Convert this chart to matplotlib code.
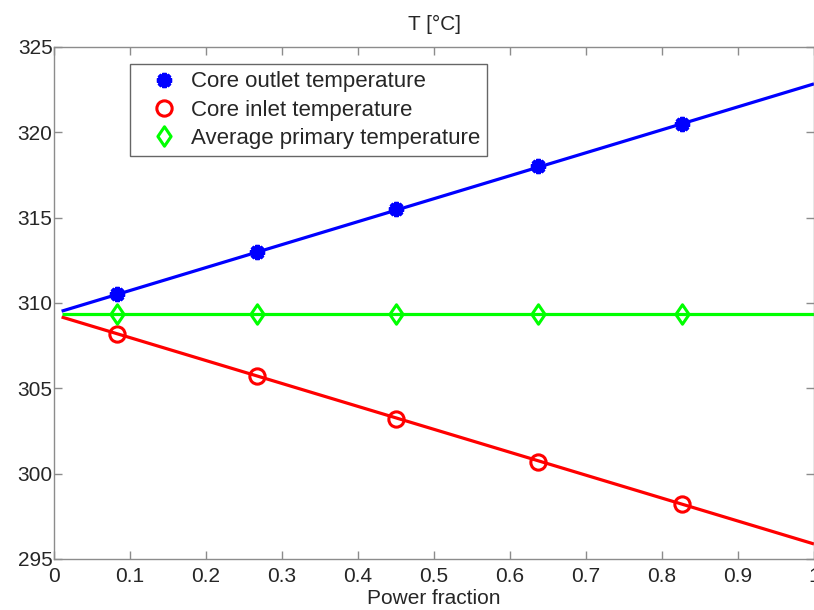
import matplotlib
matplotlib.use("Agg")
import matplotlib.pyplot as plt
from matplotlib.path import Path

plt.rcParams['font.family'] = ['Liberation Sans', 'DejaVu Sans']

# marker data
power_pts = [0.083, 0.267, 0.450, 0.637, 0.826]
outlet_pts = [310.5, 313.0, 315.5, 318.0, 320.5]
inlet_pts = [308.2, 305.7, 303.2, 300.7, 298.2]
avg_pts = [309.35, 309.35, 309.35, 309.35, 309.35]

# line data
power_line = [0.01, 1.0]
outlet_line = [309.52, 322.84]
inlet_line = [309.18, 295.88]
avg_line = [309.35, 309.35]

xticks = [0, 0.1, 0.2, 0.3, 0.4, 0.5, 0.6, 0.7, 0.8, 0.9, 1]
xticklabels = ['0', '0.1', '0.2', '0.3', '0.4', '0.5', '0.6', '0.7', '0.8', '0.9', '1']
yticks = [295, 300, 305, 310, 315, 320, 325]

diamond = Path([(0, 1), (0.68, 0), (0, -1), (-0.68, 0), (0, 1)],
               [Path.MOVETO, Path.LINETO, Path.LINETO, Path.LINETO, Path.CLOSEPOLY])

fig = plt.figure(figsize=(8.14, 6.10), dpi=100)
ax = fig.add_axes([54/814, 1-559/610, 1-54/814, (559-47)/610])

lw = 2.3
ax.plot(power_line, outlet_line, color='#0000ff', lw=lw, solid_capstyle='butt')
ax.plot(power_line, inlet_line, color='#ff0000', lw=lw, solid_capstyle='butt')
ax.plot(power_line, avg_line, color='#00ff00', lw=lw, solid_capstyle='butt')

ax.plot(power_pts, outlet_pts, ls='none', marker=(8, 2, 0), ms=11, mew=3.0,
        color='#0000ff', label='Core outlet temperature')
ax.plot(power_pts, inlet_pts, ls='none', marker='o', ms=11, mew=2.2,
        mfc='none', mec='#ff0000', label='Core inlet temperature')
ax.plot(power_pts, avg_pts, ls='none', marker=diamond, ms=14, mew=2.2,
        mfc='none', mec='#00ff00', label='Average primary temperature')

ax.set_xlim(0, 1)
ax.set_ylim(295, 325)
ax.set_xticks(xticks)
ax.set_xticklabels(xticklabels)
ax.set_yticks(yticks)

for s in ax.spines.values():
    s.set_color('#8c8c8c')
    s.set_linewidth(1.0)
ax.tick_params(direction='in', length=6, width=1.0, color='#8c8c8c',
               top=True, right=True, labelsize=15, labelcolor='#262626')
ax.tick_params(axis='x', pad=6)
ax.tick_params(axis='y', pad=1)

ax.set_xlabel('Power fraction', fontsize=15, color='#262626', labelpad=2)
ax.set_title('T [°C]', fontsize=15, color='#262626', pad=12)

leg = ax.legend(loc='upper left', bbox_to_anchor=(130/814, 1-64/610),
                bbox_transform=fig.transFigure, fontsize=16, frameon=True,
                fancybox=False, edgecolor='#404040', borderpad=0.33,
                handletextpad=0.0, handlelength=2.4, labelspacing=0.33,
                borderaxespad=0)
leg.get_frame().set_linewidth(1.0)
for t in leg.get_texts():
    t.set_color('#262626')

fig.savefig('out.png', dpi=100)
